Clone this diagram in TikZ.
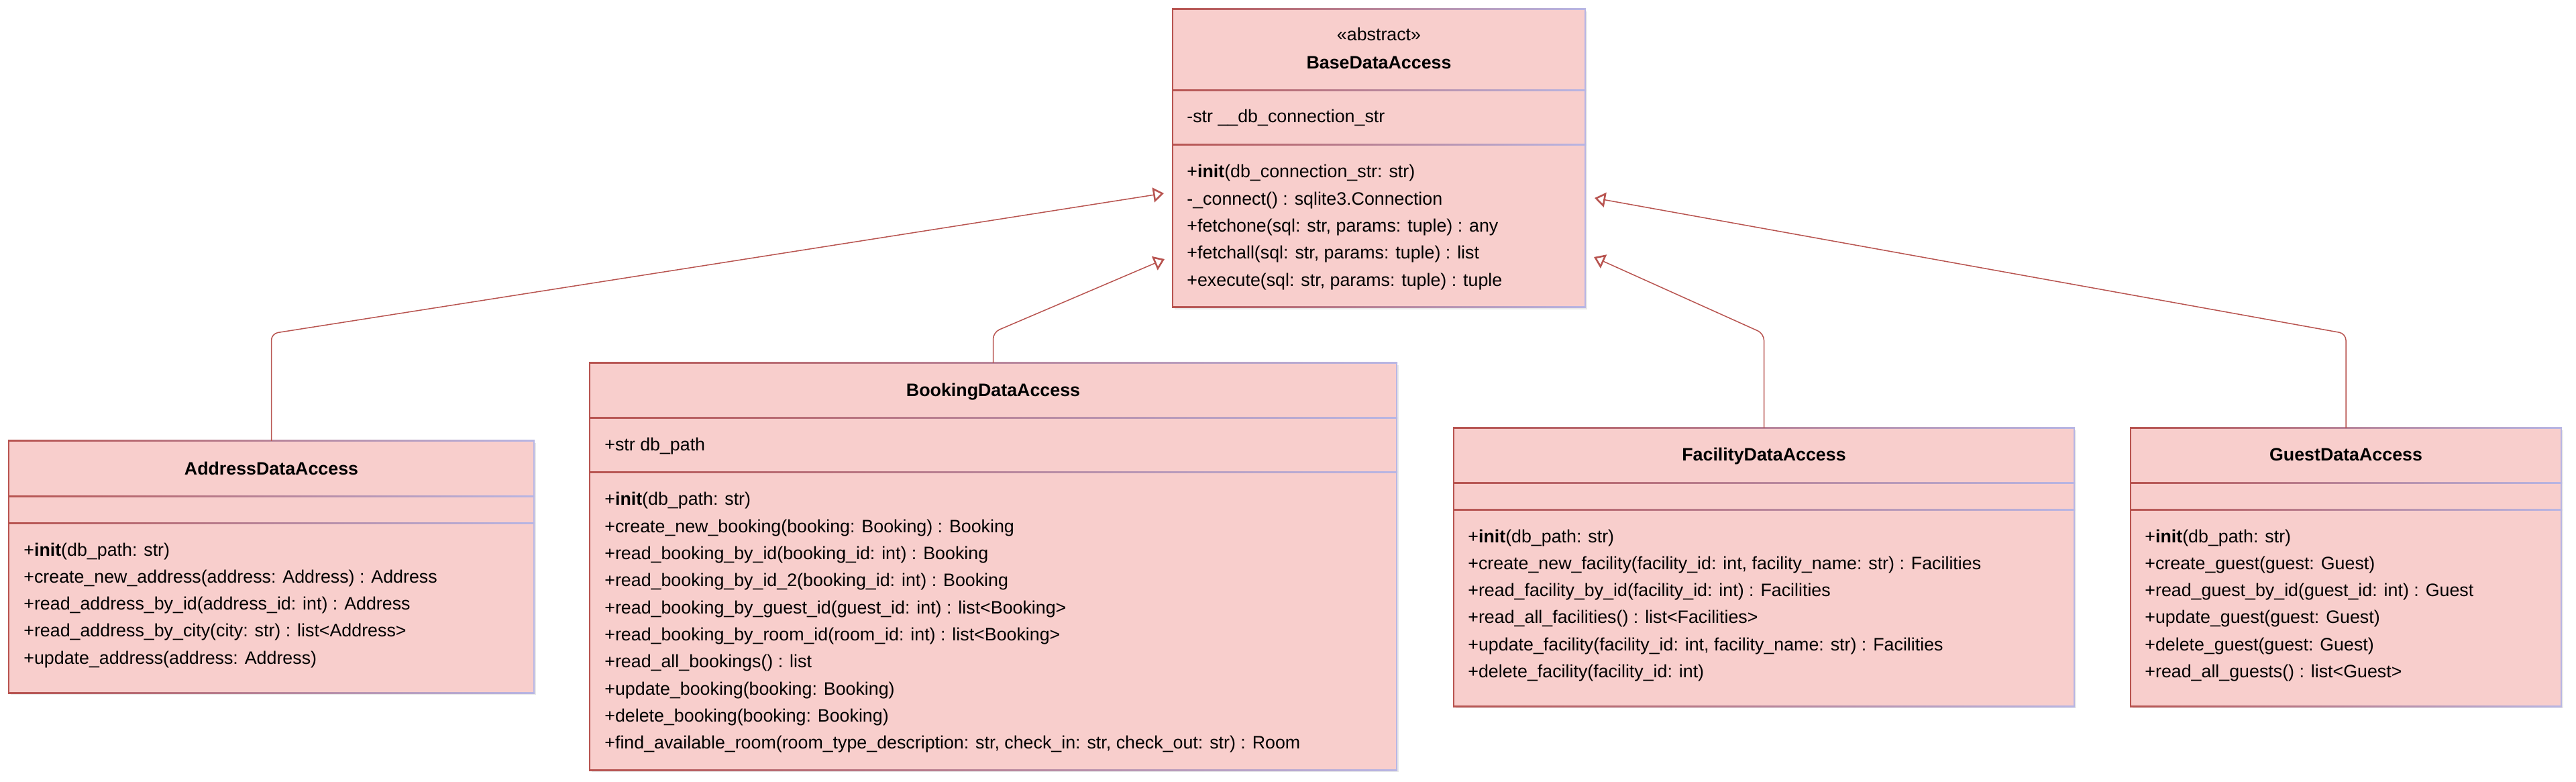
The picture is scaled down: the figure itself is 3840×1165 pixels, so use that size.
\documentclass[tikz,border=0pt]{standalone}
\usepackage{fontspec}
\setmainfont{Liberation Sans}
\usetikzlibrary{arrows.meta,shadows,fit}

\definecolor{umlfill}{HTML}{F8CECC}
\definecolor{umlred}{HTML}{B85450}
\definecolor{umllav}{HTML}{B8B6E4}

\newcommand{\umlfont}{\fontsize{13.4pt}{16pt}\selectfont}

% frame of a class box: left, top, right, bottom, first rule, second rule
\newcommand{\umlframe}[6]{%
  \foreach \yy in {#2,#5,#6,#4}
    \shade[left color=umlred, right color=umllav] (#1-1,\yy-1) rectangle (#3+1,\yy+1);
  \fill[umlred] (#1-1,#2-1) rectangle (#1+1,#4+1);
  \fill[umllav] (#3-1,#2-1) rectangle (#3+1,#4+1);
}

\tikzset{
  classbox/.style={fill=umlfill, inner sep=0pt, outer sep=0pt,
    drop shadow={shadow xshift=1.5pt, shadow yshift=-1.5pt, opacity=0.18}},
  member/.style={anchor=base west, inner sep=0pt},
  classname/.style={anchor=base, inner sep=0pt, font=\umlfont\bfseries},
  inherit/.style={draw=umlred, line width=0.75pt, rounded corners=5pt,
    -{Triangle[open, length=8pt, width=11pt, line width=1.3pt]}},
}

\begin{document}
\begin{tikzpicture}[x=0.5pt, y=-0.5pt, font=\umlfont]
\useasboundingbox (0,0) rectangle (3840,1165);

% boxes
\node[classbox, fit={(1748,14) (2363,458)}]  (base)  {};
\node[classbox, fit={(13,657) (796,1032)}]   (addr)  {};
\node[classbox, fit={(879,541) (2082,1147)}] (book)  {};
\node[classbox, fit={(2167,638) (3092,1052)}] (fac)  {};
\node[classbox, fit={(3176,638) (3818,1052)}] (guest) {};

\umlframe{1748}{14}{2363}{458}{135}{216}
\umlframe{13}{657}{796}{1032}{739}{779}
\umlframe{879}{541}{2082}{1147}{623}{704}
\umlframe{2167}{638}{3092}{1052}{719}{759}
\umlframe{3176}{638}{3818}{1052}{719}{759}

% BaseDataAccess
\node[anchor=base, inner sep=0pt] (base-st) at (base.north |- 0,61) {«abstract»};
\node[classname] (base-name) at (base.north |- 0,103) {BaseDataAccess};
\node[member] (base-a0) at (1769,183) {-str \_\_db\_connection\_str};
\foreach \m [count=\i from 0] in {%
  {+\textbf{init}(db\_connection\_str: str)},
  {-\_connect() : sqlite3.Connection},
  {+fetchone(sql: str, params: tuple) : any},
  {+fetchall(sql: str, params: tuple) : list},
  {+execute(sql: str, params: tuple) : tuple}}
  \node[member] (base-m\i) at (1769,265+40.3*\i) {\m};

% AddressDataAccess
\node[classname] (addr-name) at (addr.north |- 0,707) {AddressDataAccess};
\foreach \m [count=\i from 0] in {%
  {+\textbf{init}(db\_path: str)},
  {+create\_new\_address(address: Address) : Address},
  {+read\_address\_by\_id(address\_id: int) : Address},
  {+read\_address\_by\_city(city: str) : list<Address>},
  {+update\_address(address: Address)}}
  \node[member] (addr-m\i) at (35,828+40.3*\i) {\m};

% BookingDataAccess
\node[classname] (book-name) at (book.north |- 0,591) {BookingDataAccess};
\node[member] (book-a0) at (901,672) {+str db\_path};
\foreach \m [count=\i from 0] in {%
  {+\textbf{init}(db\_path: str)},
  {+create\_new\_booking(booking: Booking) : Booking},
  {+read\_booking\_by\_id(booking\_id: int) : Booking},
  {+read\_booking\_by\_id\_2(booking\_id: int) : Booking},
  {+read\_booking\_by\_guest\_id(guest\_id: int) : list<Booking>},
  {+read\_booking\_by\_room\_id(room\_id: int) : list<Booking>},
  {+read\_all\_bookings() : list},
  {+update\_booking(booking: Booking)},
  {+delete\_booking(booking: Booking)},
  {+find\_available\_room(room\_type\_description: str, check\_in: str, check\_out: str) : Room}}
  \node[member] (book-m\i) at (901,753+40.3*\i) {\m};

% FacilityDataAccess
\node[classname] (fac-name) at (fac.north |- 0,687) {FacilityDataAccess};
\foreach \m [count=\i from 0] in {%
  {+\textbf{init}(db\_path: str)},
  {+create\_new\_facility(facility\_id: int, facility\_name: str) : Facilities},
  {+read\_facility\_by\_id(facility\_id: int) : Facilities},
  {+read\_all\_facilities() : list<Facilities>},
  {+update\_facility(facility\_id: int, facility\_name: str) : Facilities},
  {+delete\_facility(facility\_id: int)}}
  \node[member] (fac-m\i) at (2188,808+40.3*\i) {\m};

% GuestDataAccess
\node[classname] (guest-name) at (guest.north |- 0,687) {GuestDataAccess};
\foreach \m [count=\i from 0] in {%
  {+\textbf{init}(db\_path: str)},
  {+create\_guest(guest: Guest)},
  {+read\_guest\_by\_id(guest\_id: int) : Guest},
  {+update\_guest(guest: Guest)},
  {+delete\_guest(guest: Guest)},
  {+read\_all\_guests() : list<Guest>}}
  \node[member] (guest-m\i) at (3197,808+40.3*\i) {\m};

% inheritance
\coordinate (addr-bend)  at (addr.north |- 0,497);
\coordinate (addr-tip)   at (1735,288);
\coordinate (book-bend)  at (book.north |- 0,495);
\coordinate (book-tip)   at (1736,386);
\coordinate (fac-bend)   at (fac.north |- 0,497);
\coordinate (fac-tip)    at (2376,383);
\coordinate (guest-bend) at (guest.north |- 0,497);
\coordinate (guest-tip)  at (2377,295);

\draw[inherit] (addr.north)  -- (addr-bend)  -- (addr-tip);
\draw[inherit] (book.north)  -- (book-bend)  -- (book-tip);
\draw[inherit] (fac.north)   -- (fac-bend)   -- (fac-tip);
\draw[inherit] (guest.north) -- (guest-bend) -- (guest-tip);

\end{tikzpicture}
\end{document}
